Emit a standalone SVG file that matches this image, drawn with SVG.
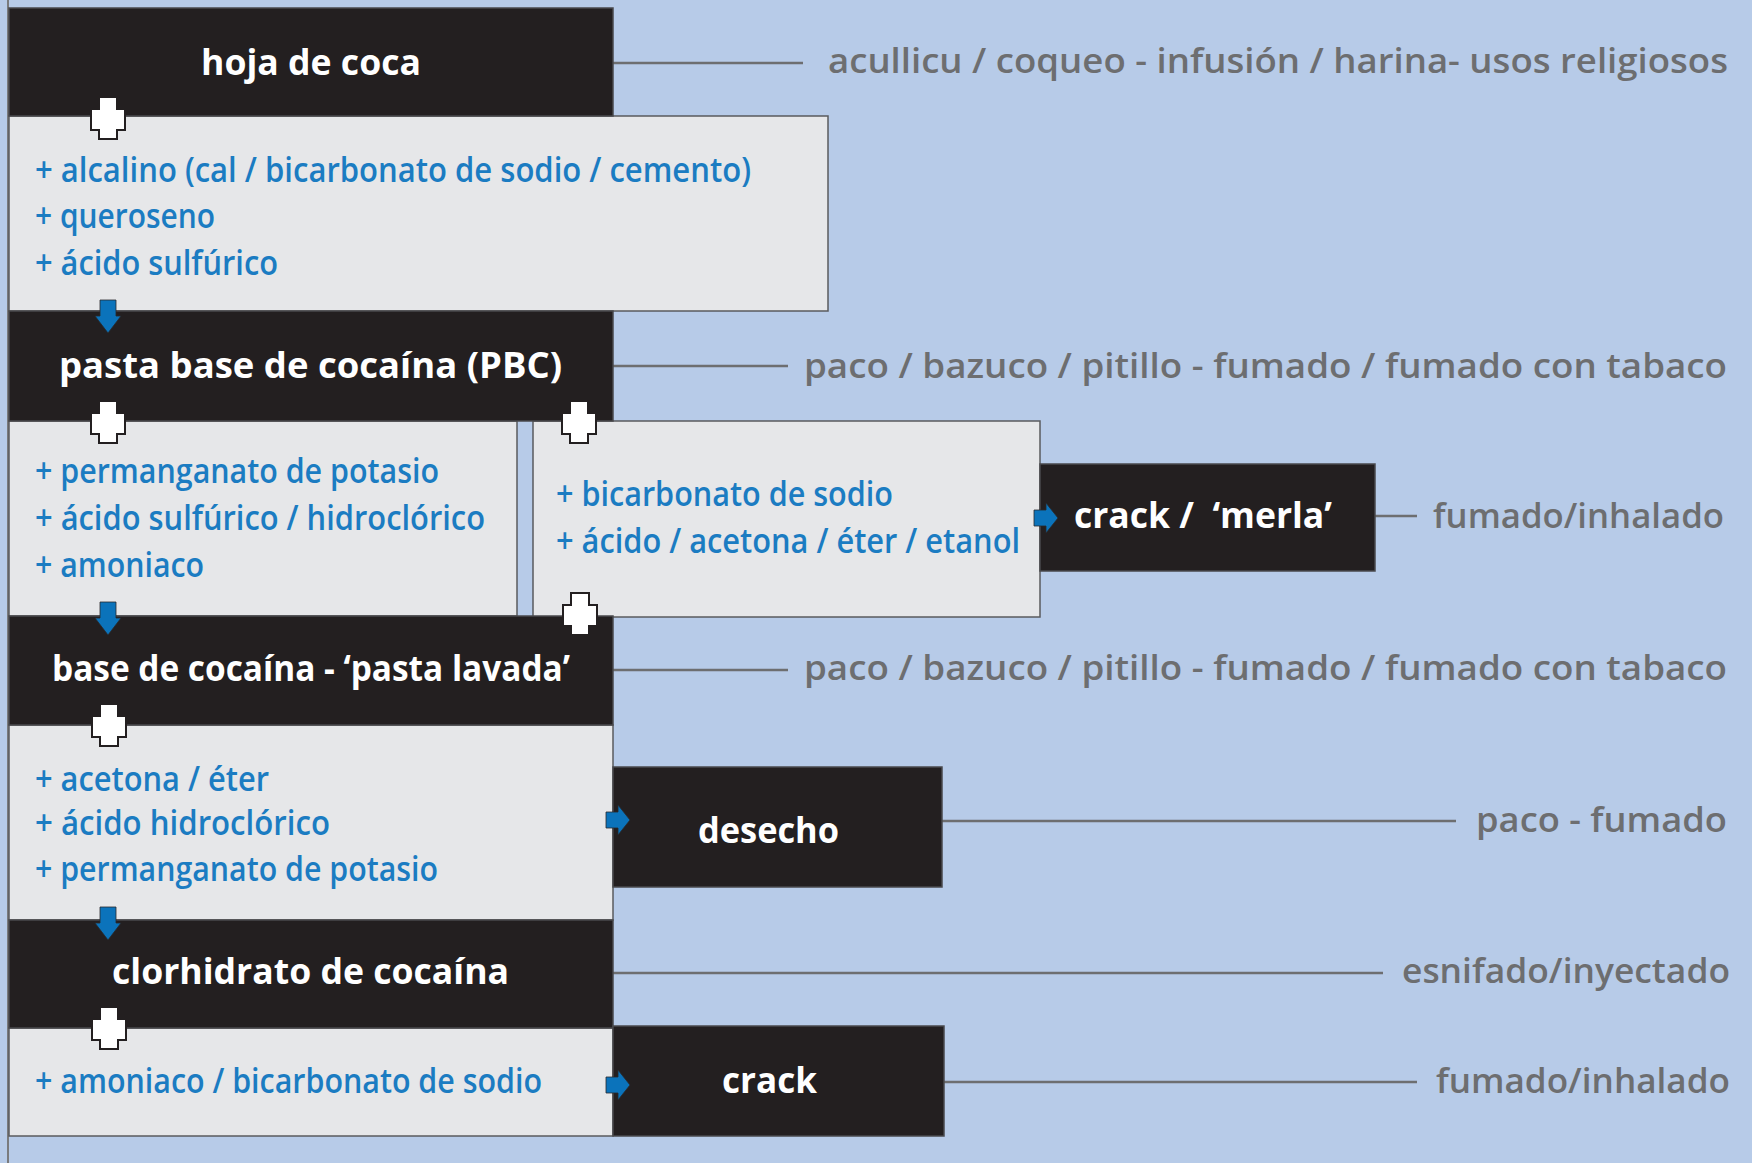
<svg xmlns="http://www.w3.org/2000/svg" width="1752" height="1163" viewBox="0 0 1752 1163">
<style>
.bg{fill:#b7cbe8}
.gbox{fill:#e6e7e9;stroke:#5a5b5d;stroke-width:1.5}
.kbox{fill:#231f20;stroke:#4a4a4c;stroke-width:1.5}
.title{font-family:"Open Sans","Liberation Sans",sans-serif;font-weight:700;font-size:36px;fill:#ffffff}
.item{font-family:"Open Sans","Liberation Sans",sans-serif;font-weight:600;font-size:34px;fill:#1b7cc2}
.use{font-family:"Open Sans","Liberation Sans",sans-serif;font-weight:600;font-size:35px;fill:#6d6e70}
.conn{stroke:#6d6e70;stroke-width:2.5;fill:none}
.plus{fill:#ffffff;stroke:#231f20;stroke-width:2}
.arr{fill:#0b73bb;stroke:#2a2a2c;stroke-width:0.8}
</style>
<defs>
<path id="plus" class="plus" d="M-9,-21 H9 V-9 H17 V12 H9 V21 H-9 V12 H-17 V-9 H-9 Z"/>
<path id="darr" class="arr" d="M-8,-33 H8 V-17 H13 L0,0 L-13,-17 H-8 Z"/>
<path id="rarr" class="arr" d="M-24,-8 H-12 V-15 L0,0 L-12,15 V8 H-24 Z"/>
</defs>
<rect class="bg" x="0" y="0" width="1752" height="1163"/>
<line x1="8" y1="0" x2="8" y2="1163" stroke="#7a7b7d" stroke-width="2"/>

<g id="connectors">
<line class="conn" x1="613" y1="63" x2="803" y2="63"/>
<line class="conn" x1="613" y1="366" x2="788" y2="366"/>
<line class="conn" x1="1375" y1="516" x2="1417" y2="516"/>
<line class="conn" x1="613" y1="670" x2="788" y2="670"/>
<line class="conn" x1="942" y1="821" x2="1456" y2="821"/>
<line class="conn" x1="613" y1="973" x2="1383" y2="973"/>
<line class="conn" x1="944" y1="1082" x2="1417" y2="1082"/>
</g>

<g id="box-reactivos-1">
<rect class="gbox" x="9" y="116" width="819" height="195"/>
<text class="item" x="35" y="182" textLength="716" lengthAdjust="spacingAndGlyphs">+ alcalino (cal / bicarbonato de sodio / cemento)</text>
<text class="item" x="35" y="228" textLength="180" lengthAdjust="spacingAndGlyphs">+ queroseno</text>
<text class="item" x="35" y="275" textLength="243" lengthAdjust="spacingAndGlyphs">+ ácido sulfúrico</text>
</g>

<g id="box-reactivos-2a">
<rect class="gbox" x="9" y="421" width="508" height="195"/>
<text class="item" x="35" y="483" textLength="404" lengthAdjust="spacingAndGlyphs">+ permanganato de potasio</text>
<text class="item" x="35" y="530" textLength="450" lengthAdjust="spacingAndGlyphs">+ ácido sulfúrico / hidroclórico</text>
<text class="item" x="35" y="577" textLength="169" lengthAdjust="spacingAndGlyphs">+ amoniaco</text>
</g>

<g id="box-reactivos-2b">
<rect class="gbox" x="533" y="421" width="507" height="196"/>
<text class="item" x="556" y="506" textLength="337" lengthAdjust="spacingAndGlyphs">+ bicarbonato de sodio</text>
<text class="item" x="556" y="553" textLength="464" lengthAdjust="spacingAndGlyphs">+ ácido / acetona / éter / etanol</text>
</g>

<g id="box-reactivos-3">
<rect class="gbox" x="9" y="725" width="604" height="195"/>
<text class="item" x="35" y="791" textLength="234" lengthAdjust="spacingAndGlyphs">+ acetona / éter</text>
<text class="item" x="35" y="835" textLength="295" lengthAdjust="spacingAndGlyphs">+ ácido hidroclórico</text>
<text class="item" x="35" y="881" textLength="403" lengthAdjust="spacingAndGlyphs">+ permanganato de potasio</text>
</g>

<g id="box-reactivos-4">
<rect class="gbox" x="9" y="1028" width="604" height="108"/>
<text class="item" x="35" y="1093" textLength="507" lengthAdjust="spacingAndGlyphs">+ amoniaco / bicarbonato de sodio</text>
</g>

<g id="hoja-de-coca">
<rect class="kbox" x="9" y="8" width="604" height="108"/>
<text class="title" x="201" y="75" textLength="220" lengthAdjust="spacingAndGlyphs">hoja de coca</text>
</g>
<g id="pbc">
<rect class="kbox" x="9" y="311" width="604" height="110"/>
<text class="title" x="59" y="378" textLength="503" lengthAdjust="spacingAndGlyphs">pasta base de cocaína (PBC)</text>
</g>
<g id="crack-merla">
<rect class="kbox" x="1040" y="464" width="335" height="107"/>
<text class="title" x="1074" y="528" textLength="258" lengthAdjust="spacingAndGlyphs" xml:space="preserve">crack /  ‘merla’</text>
</g>
<g id="base-cocaina">
<rect class="kbox" x="9" y="616" width="604" height="109"/>
<text class="title" x="52" y="681" textLength="518" lengthAdjust="spacingAndGlyphs">base de cocaína - ‘pasta lavada’</text>
</g>
<g id="desecho">
<rect class="kbox" x="613" y="767" width="329" height="120"/>
<text class="title" x="698" y="843" textLength="141" lengthAdjust="spacingAndGlyphs">desecho</text>
</g>
<g id="clorhidrato">
<rect class="kbox" x="9" y="920" width="604" height="108"/>
<text class="title" x="112" y="984" textLength="397" lengthAdjust="spacingAndGlyphs">clorhidrato de cocaína</text>
</g>
<g id="crack">
<rect class="kbox" x="613" y="1026" width="331" height="110"/>
<text class="title" x="722" y="1093" textLength="95" lengthAdjust="spacingAndGlyphs">crack</text>
</g>

<g id="usos">
<text class="use" x="828" y="73" textLength="900" lengthAdjust="spacingAndGlyphs">acullicu / coqueo - infusión / harina- usos religiosos</text>
<text class="use" x="804" y="378" textLength="923" lengthAdjust="spacingAndGlyphs">paco / bazuco / pitillo - fumado / fumado con tabaco</text>
<text class="use" x="1433" y="528" textLength="291" lengthAdjust="spacingAndGlyphs">fumado/inhalado</text>
<text class="use" x="804" y="680" textLength="923" lengthAdjust="spacingAndGlyphs">paco / bazuco / pitillo - fumado / fumado con tabaco</text>
<text class="use" x="1476" y="832" textLength="251" lengthAdjust="spacingAndGlyphs">paco - fumado</text>
<text class="use" x="1402" y="983" textLength="328" lengthAdjust="spacingAndGlyphs">esnifado/inyectado</text>
<text class="use" x="1436" y="1093" textLength="294" lengthAdjust="spacingAndGlyphs">fumado/inhalado</text>
</g>

<g id="marcas">
<use href="#plus" x="108" y="118"/>
<use href="#plus" x="108" y="422"/>
<use href="#plus" x="579" y="422"/>
<use href="#plus" x="580" y="614"/>
<use href="#plus" x="109" y="725"/>
<use href="#plus" x="109" y="1028"/>
<use href="#darr" x="108" y="333"/>
<use href="#darr" x="108" y="635"/>
<use href="#darr" x="108" y="940"/>
<use href="#rarr" x="1058" y="518"/>
<use href="#rarr" x="630" y="820"/>
<use href="#rarr" x="630" y="1085"/>
</g>
</svg>
